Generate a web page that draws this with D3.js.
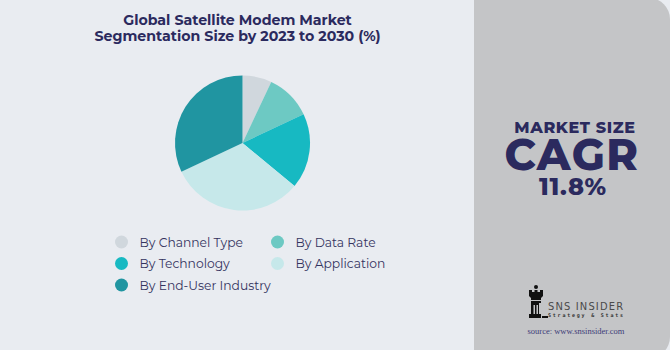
<!DOCTYPE html>
<html>
<head>
<meta charset="utf-8">
<script src="https://cdn.jsdelivr.net/npm/d3@7"></script>
<style>
  html, body { margin: 0; padding: 0; background: #e9ecf1; }
  svg { display: block; }
</style>
</head>
<body>
<svg id="chart" width="670" height="350"></svg>
<script>
const categories = ["By Channel Type", "By Data Rate", "By Technology", "By Application", "By End-User Industry"];
const values = [7, 11, 18, 32, 32];
const colors = ["#d0d7dd", "#6dc9c3", "#17b9c2", "#c6e8ea", "#2095a1"];
const titleLines = ["Global Satellite Modem Market", "Segmentation Size by 2023 to 2030 (%)"];
const cagrLabel = "MARKET SIZE";
const cagrWord = "CAGR";
const cagrValue = "11.8%";

const svg = d3.select("#chart");
const navy = "#2b2a5e";

// background
svg.append("rect").attr("x", 0).attr("y", 0).attr("width", 670).attr("height", 350).attr("fill", "#e9ecf1");

// right panel
svg.append("defs").append("clipPath").attr("id", "clipAll")
  .append("rect").attr("x", 0).attr("y", 0).attr("width", 670).attr("height", 350);
svg.append("g").attr("clip-path", "url(#clipAll)")
  .append("rect").attr("x", 474).attr("y", -2).attr("width", 196).attr("height", 360)
  .attr("rx", 21).attr("ry", 21).attr("fill", "#c4c5c7");
svg.append("rect").attr("x", 474).attr("y", 0).attr("width", 30).attr("height", 350).attr("fill", "#c4c5c7");

// title
const title = svg.append("text").attr("text-anchor", "middle")
  .attr("font-family", "Montserrat, 'Open Sans', sans-serif").attr("font-weight", 700)
  .attr("font-size", 14.2).attr("fill", navy);
titleLines.forEach((t, i) => {
  title.append("tspan").attr("x", 237.5).attr("y", 25 + i * 16).text(t);
});

// pie
const cx = 242.5, cy = 143, r = 67.5;
const pie = d3.pie().sort(null).value(d => d)(values);
const arc = d3.arc().innerRadius(0).outerRadius(r);
svg.append("g").attr("transform", `translate(${cx},${cy})`)
  .selectAll("path").data(pie).join("path")
  .attr("d", arc).attr("fill", (d, i) => colors[i]);

// legend
const colX = [121.5, 277.5];
const rowY = [242, 263.5, 285];
const leg = svg.append("g");
categories.forEach((c, i) => {
  const col = i === 4 ? 0 : i % 2;
  const row = Math.floor(i / 2);
  const g = leg.append("g").attr("transform", `translate(${colX[col]},${rowY[row]})`);
  g.append("circle").attr("r", 6.5).attr("fill", colors[i]);
  g.append("text").attr("x", 18).attr("y", 4.5)
    .attr("font-family", "Montserrat, 'Open Sans', sans-serif").attr("font-size", 12.3)
    .attr("fill", "#34335f").text(c);
});

// CAGR block
svg.append("text").attr("x", 575).attr("y", 133).attr("text-anchor", "middle")
  .attr("font-family", "Montserrat, 'Open Sans', sans-serif").attr("font-weight", 800)
  .attr("font-size", 16).attr("letter-spacing", 0.6).attr("fill", navy).text(cagrLabel);
svg.append("text").attr("x", 572).attr("y", 170).attr("text-anchor", "middle")
  .attr("font-family", "Montserrat, 'Open Sans', sans-serif").attr("font-weight", 800)
  .attr("font-size", 43).attr("fill", navy).attr("letter-spacing", 1.5).text(cagrWord);
svg.append("text").attr("x", 573).attr("y", 195).attr("text-anchor", "middle")
  .attr("font-family", "Montserrat, 'Open Sans', sans-serif").attr("font-weight", 800)
  .attr("font-size", 24).attr("letter-spacing", 0.8).attr("fill", navy).text(cagrValue);

// logo
const logo = svg.append("g").attr("transform", "translate(527,285)");
logo.append("circle").attr("cx", 9).attr("cy", 2).attr("r", 2).attr("fill", "#111");
logo.append("path").attr("fill", "#111")
  .attr("d", "M2,5 L5,5 L5,7 L7.5,7 L7.5,5 L10.5,5 L10.5,7 L13,7 L13,5 L16,5 L16,11 L14,13 L14,15 L4,15 L4,13 L2,11 Z");
logo.append("path").attr("fill", "#111")
  .attr("d", "M4,16 L14,16 L14,18 L12,18 L12,29 L14,29 L14,33 L2,33 L2,29 L4,29 Z");
logo.append("rect").attr("x", 6.5).attr("y", 20).attr("width", 1.5).attr("height", 9).attr("fill", "#c4c5c7");
logo.append("rect").attr("x", 9.5).attr("y", 20).attr("width", 1.5).attr("height", 9).attr("fill", "#c4c5c7");
logo.append("rect").attr("x", 15).attr("y", 31).attr("width", 6).attr("height", 2).attr("fill", "#111");

svg.append("text").attr("x", 548).attr("y", 309.5)
  .attr("font-family", "'Liberation Sans Narrow', 'DejaVu Sans Condensed', sans-serif")
  .attr("font-size", 11).attr("fill", "#4a4a4a").attr("textLength", 75).text("SNS INSIDER");
svg.append("text").attr("x", 548).attr("y", 317)
  .attr("font-family", "'DejaVu Sans Mono', monospace").attr("font-weight", 700)
  .attr("font-size", 5).attr("fill", "#333").attr("textLength", 75).text("Strategy & Stats");
svg.append("text").attr("x", 576).attr("y", 333.5).attr("text-anchor", "middle")
  .attr("font-family", "'Liberation Serif', 'DejaVu Serif', serif")
  .attr("font-size", 8.5).attr("fill", "#3d3c78").text("source: www.snsinsider.com");
</script>
</body>
</html>
